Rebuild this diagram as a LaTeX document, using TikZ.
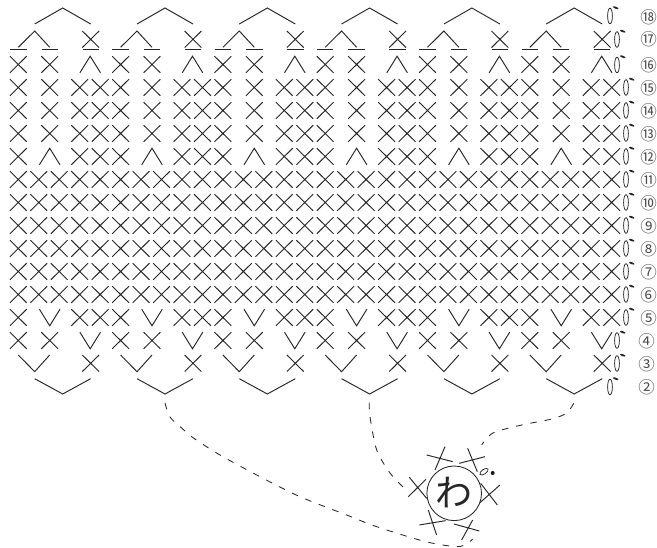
\documentclass[tikz,border=0pt]{standalone}
\usepackage{fontspec}
\newfontfamily\cjkf{Noto Sans CJK JP}
\tikzset{
  x=1pt,y=-1pt,
  st/.style={line width=0.95pt,color=black!85,line cap=butt},
  lnk/.style={line width=0.85pt,color=black!85,dash pattern=on 6.5pt off 8pt},
  oval/.style={line width=0.75pt,color=black!85},
  num/.style={font=\cjkf\fontsize{16.5}{16.5}\selectfont,text=black!70,inner sep=0pt,anchor=center}
}
\newcommand\xs[2]{\draw[st] ({#1-8.4},{#2-8.3}) -- ({#1+8.4},{#2+8.3}) ({#1+8.4},{#2-8.3}) -- ({#1-8.4},{#2+8.3});}
\newcommand\up[2]{\draw[st] ({#1-10.3},{#2+8.3}) -- (#1,{#2-8.3}) -- ({#1+10.3},{#2+8.3});}
\newcommand\dn[2]{\draw[st] ({#1-10.3},{#2-8.3}) -- (#1,{#2+8.3}) -- ({#1+10.3},{#2-8.3});}
\newcommand\ch[2]{\draw[oval] (#1,#2) ellipse [x radius=2.4pt,y radius=7.8pt];
  \fill[black!85,shift={({#1+5.7},{#2-8.3})},rotate=-20] (0,0) ellipse [x radius=2.9pt,y radius=1pt];}
\begin{document}
\begin{tikzpicture}
\useasboundingbox (0,0) rectangle (657,548);
% full rows of X
\foreach \n in {6,...,11}{
  \pgfmathsetmacro\yy{179.5+(11-\n)*23}
  \foreach \i in {0,...,29}{
    \pgfmathsetmacro\xx{18.3+20.46*\i}
    \xs{\xx}{\yy}
  }
}
\foreach \k in {0,...,5}{
  \pgfmathsetmacro\a{18.3+102.3*\k}
  \pgfmathsetmacro\b{49.7+102.3*\k}
  \pgfmathsetmacro\c{79.7+102.3*\k}
  \pgfmathsetmacro\d{100.2+102.3*\k}
  \pgfmathsetmacro\e{90.2+102.3*\k}
  \pgfmathsetmacro\f{34.7+102.3*\k}
  \pgfmathsetmacro\g{62.7+102.3*\k}
  \pgfmathsetmacro\h{90.7+102.3*\k}
  % rows 13-15
  \foreach \n in {13,14,15}{
    \pgfmathsetmacro\yy{179.5+(11-\n)*23}
    \xs{\a}{\yy}\xs{\b}{\yy}\xs{\c}{\yy}\xs{\d}{\yy}
  }
  % row 12
  \xs{\a}{156.5}\up{\b}{156.5}\xs{\c}{156.5}\xs{\d}{156.5}
  % row 16
  \xs{\a}{64.5}\xs{\b}{64.5}\up{\e}{64.5}
  % row 17
  \draw[st] (\a,47.3) -- (\f,31) -- (\b,47.3);
  \xs{\h}{39.3}
  \draw[st,line width=1.05pt] ({\a-8.2},49.5) -- ({\a+8.2},49.5)
     ({\b-8.2},49.5) -- ({\b+8.2},49.5) ({\h-8.2},49.5) -- ({\h+8.2},49.5);
  % row 18
  \draw[st] (\f,24) -- (\g,8) -- (\h,24);
  % row 5
  \xs{\a}{317.5}\dn{\b}{317.5}\xs{\c}{317.5}\xs{\d}{317.5}
  % row 4
  \xs{\a}{340.5}\xs{\b}{340.5}\dn{\e}{340.5}
  % row 3
  \draw[st] (\a,355) -- (\f,371.7) -- (\b,355);
  \xs{\h}{363.3}
  % row 2
  \draw[st] (\f,378.7) -- (\g,394) -- (\h,378.7);
}
% chains
\ch{610}{16}\ch{617}{39.5}\ch{617}{65}
\foreach \n in {5,...,15}{
  \pgfmathsetmacro\yy{179.5+(11-\n)*23}
  \ch{626}{\yy}
}
\ch{617}{340.5}\ch{617}{363.5}\ch{610}{387}
% row numbers
\node[num] (n18) at (648.7,17.5) {⑱};
\node[num] (n17) at (648.7,39.5) {⑰};
\node[num] (n16) at (648.7,65) {⑯};
\node[num] (n15) at (648.7,88) {⑮};
\node[num] (n14) at (648.7,111) {⑭};
\node[num] (n13) at (648.7,134) {⑬};
\node[num] (n12) at (648.7,157) {⑫};
\node[num] (n11) at (648.7,180) {⑪};
\node[num] (n10) at (648.7,203) {⑩};
\node[num] (n9) at (648.7,226) {⑨};
\node[num] (n8) at (648.7,249) {⑧};
\node[num] (n7) at (648.7,272) {⑦};
\node[num] (n6) at (648.7,295) {⑥};
\node[num] (n5) at (648.7,318) {⑤};
\node[num] (n4) at (646.7,341) {④};
\node[num] (n3) at (646.7,364) {③};
\node[num] (n2) at (646.7,387) {②};
% ring
\node[circle,draw,line width=0.85pt,black!85,minimum size=54.6pt,inner sep=0pt,
  font=\cjkf\fontsize{37}{37}\selectfont,text=black!85] (ring) at (454.2,493.3) {\raisebox{3.5pt}{わ}};
% ring stitches
\begin{scope}[shift={(360,400)},x=0.3333pt,y=-0.3333pt]
\draw[st] (200,165) -- (278,185) (255,140) -- (225,210);
\draw[st] (298,190) -- (375,170) (323,145) -- (352,215);
\draw[st] (362,250) -- (412,315) (420,255) -- (360,308);
\draw[st] (282,372) -- (358,393) (338,360) -- (305,420);
\draw[st] (178,375) -- (257,362) (205,330) -- (230,405);
\draw[st] (148,232) -- (200,295) (145,290) -- (198,238);
\end{scope}
\draw[oval,rotate around={35:(484,471.7)}] (484,471.7) ellipse [x radius=4.8pt,y radius=2.3pt];
\fill[black!90] (492.7,473) circle [radius=2pt];
% dashed paths
\draw[lnk] plot[smooth] coordinates {(165,403) (170,417) (181.7,428) (193,437.7) (220,455) (260,476.7) (300,496.7) (346.7,515) (376.7,526.7) (427,542) (460,546.5) (472.7,539)};
\draw[lnk] plot[smooth] coordinates {(369.3,402.7) (370,416.7) (376.7,450) (390,473) (403,487)};
\draw[lnk] plot[smooth] coordinates {(573.7,403.3) (566.7,413) (551.7,419) (521.7,425) (493,433) (481.7,445)};
\end{tikzpicture}
\end{document}
